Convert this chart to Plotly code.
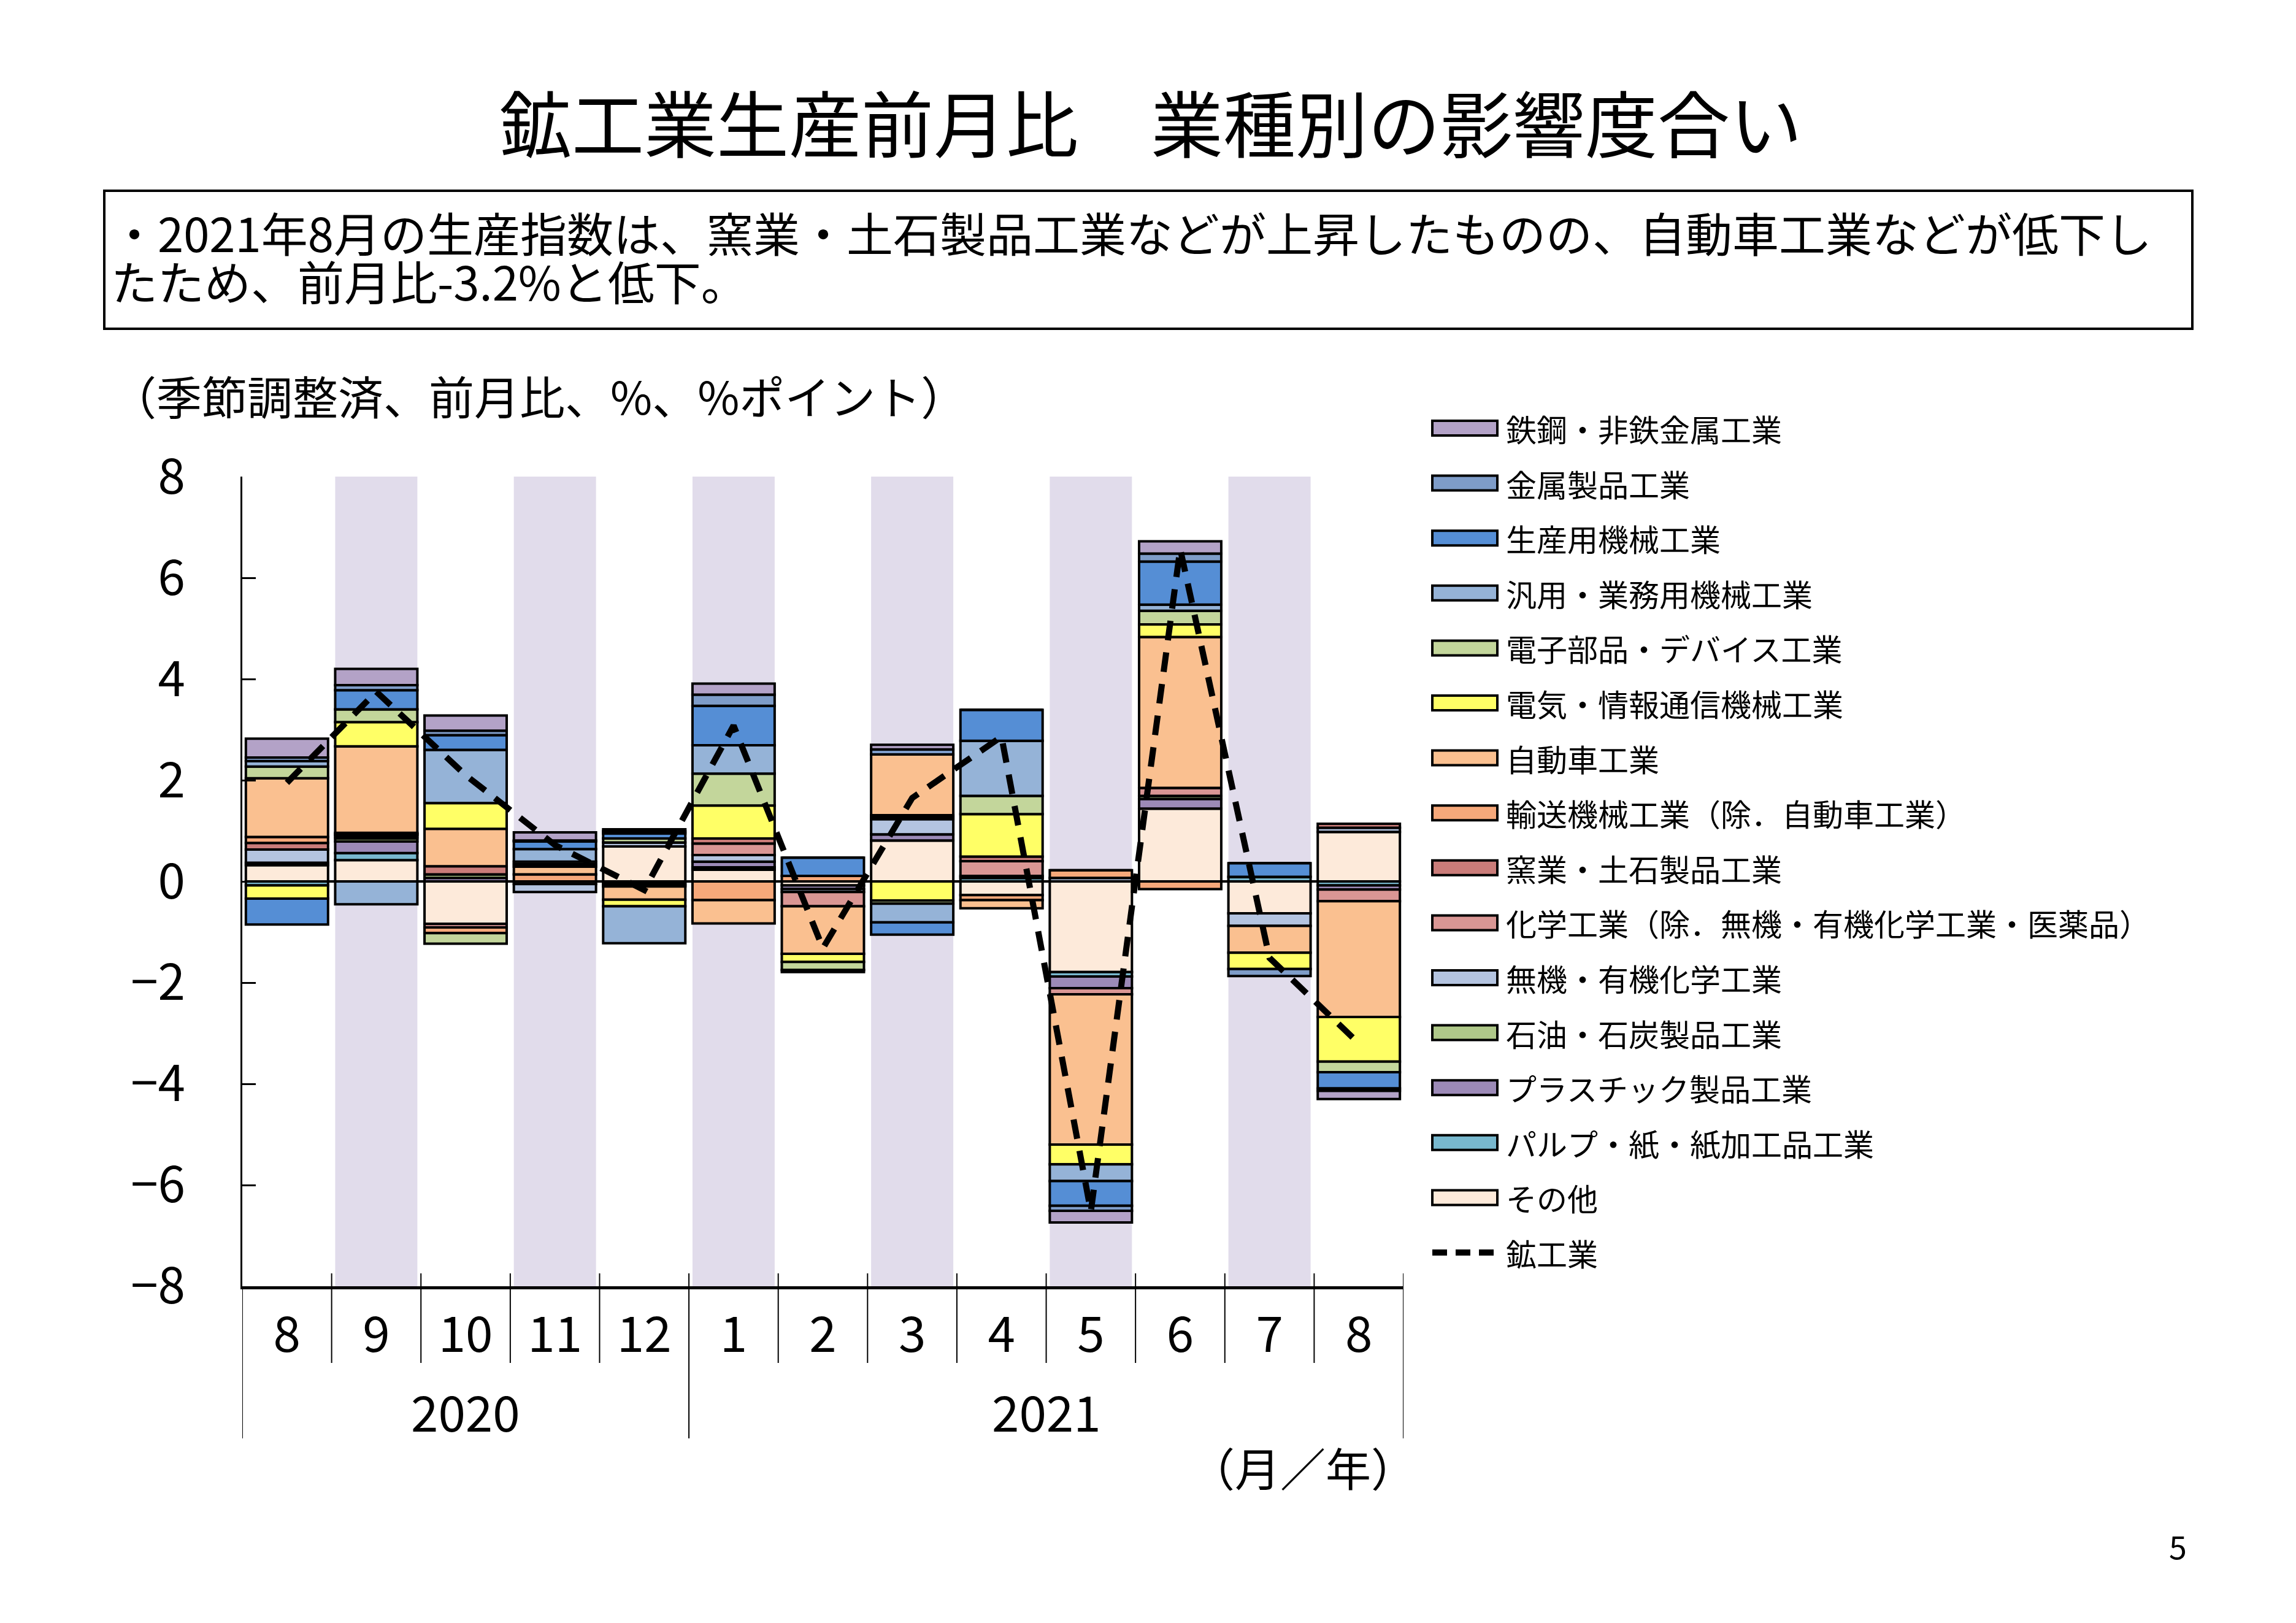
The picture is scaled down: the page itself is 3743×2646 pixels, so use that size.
import plotly.graph_objects as go

# ---------------- data ----------------
months = ["8", "9", "10", "11", "12", "1", "2", "3", "4", "5", "6", "7", "8"]
years = ["2020"] * 5 + ["2021"] * 8

# contribution by industry (%pt), Aug 2020 .. Aug 2021
sonota   = [0.32, 0.42, -0.84, -0.05, 0.69, 0.23, -0.08, 0.81, -0.27, -1.79, 1.44, -0.63, 0.98]
pulp     = [-0.08, 0.14, 0.00, 0.00, -0.04, 0.05, 0.00, 0.00, 0.07, -0.09, 0.00, 0.09, -0.08]
plastic  = [0.05, 0.23, 0.07, 0.00, 0.00, 0.11, -0.07, 0.12, 0.00, -0.23, 0.19, 0.00, -0.08]
sekiyu   = [0.00, 0.06, 0.07, 0.00, 0.00, 0.00, 0.00, 0.00, 0.00, 0.00, 0.06, 0.00, 0.00]
muki     = [0.26, 0.04, 0.00, -0.16, 0.08, 0.13, -0.06, 0.30, 0.04, 0.07, 0.00, -0.25, 0.08]
kagaku   = [0.00, 0.03, -0.07, 0.00, 0.00, 0.23, -0.28, 0.04, 0.29, -0.12, 0.16, 0.00, -0.23]
yogyo    = [0.13, 0.02, 0.16, 0.00, -0.03, 0.10, 0.00, 0.04, 0.09, 0.00, 0.00, 0.00, 0.08]
yuso     = [0.12, 0.02, -0.11, 0.14, -0.03, -0.37, 0.11, 0.00, -0.10, 0.15, -0.15, 0.00, 0.00]
jidosha  = [1.16, 1.71, 0.74, 0.15, -0.26, -0.46, -0.94, 1.20, -0.16, -2.97, 2.98, -0.53, -2.29]
denki    = [-0.26, 0.48, 0.51, 0.05, -0.13, 0.65, -0.16, -0.38, 0.84, -0.39, 0.25, -0.32, -0.88]
denshi   = [0.23, 0.25, -0.21, 0.05, 0.08, 0.63, -0.16, -0.06, 0.36, 0.00, 0.27, 0.00, -0.21]
hanyo    = [0.11, -0.45, 1.05, 0.25, -0.73, 0.56, 0.00, -0.37, 1.09, -0.33, 0.12, 0.00, 0.00]
seisanyo = [-0.51, 0.38, 0.29, 0.15, 0.10, 0.78, 0.36, -0.24, 0.61, -0.49, 0.85, 0.27, -0.32]
kinzoku  = [0.07, 0.10, 0.09, 0.02, 0.04, 0.22, -0.04, 0.10, 0.00, -0.10, 0.16, -0.14, -0.05]
tekko    = [0.37, 0.32, 0.30, 0.16, 0.04, 0.22, 0.00, 0.09, 0.00, -0.23, 0.24, 0.00, -0.16]

# 鉱工業 (mining & manufacturing, % m/m)
kokogyo = [1.95, 3.75, 2.10, 0.72, -0.17, 3.08, -1.32, 1.65, 2.86, -6.52, 6.57, -1.51, -3.20]
zero_ref = [0.0] * len(months)

# series in stacking order (first = closest to zero)
series = [
    ("その他", sonota, "#FDEADA"),
    ("パルプ・紙・紙加工品工業", pulp, "#78B8CE"),
    ("プラスチック製品工業", plastic, "#9C8AB7"),
    ("石油・石炭製品工業", sekiyu, "#AFC889"),
    ("無機・有機化学工業", muki, "#B4C4E0"),
    ("化学工業（除．無機・有機化学工業・医薬品）", kagaku, "#D99694"),
    ("窯業・土石製品工業", yogyo, "#CA7C79"),
    ("輸送機械工業（除．自動車工業）", yuso, "#F6A87A"),
    ("自動車工業", jidosha, "#FAC090"),
    ("電気・情報通信機械工業", denki, "#FFFF66"),
    ("電子部品・デバイス工業", denshi, "#C3D69B"),
    ("汎用・業務用機械工業", hanyo, "#95B3D7"),
    ("生産用機械工業", seisanyo, "#558ED5"),
    ("金属製品工業", kinzoku, "#7E9CC8"),
    ("鉄鋼・非鉄金属工業", tekko, "#B3A2C7"),
]
line_name = "鉱工業"

title_text = "鉱工業生産前月比　業種別の影響度合い"
box_line1 = "・2021年8月の生産指数は、窯業・土石製品工業などが上昇したものの、自動車工業などが低下し"
box_line2 = "たため、前月比-3.2%と低下。"
ytitle = "（季節調整済、前月比、%、%ポイント）"
xunit = "（月／年）"
page_no = "5"
yticks = [-8, -6, -4, -2, 0, 2, 4, 6, 8]

# ---------------- layout constants ----------------
W, H = 3743, 2646
L, R, T, B = 387, 2280, 769, 2089
FONT = "Noto Sans CJK JP"
BARW = 0.92


def px(X):
    return (X - L) / (R - L)


def py(Y):
    return (B - Y) / (B - T)


xs = list(range(len(months)))

fig = go.Figure()

for name, vals, col in series:
    fig.add_trace(go.Bar(
        x=xs, y=vals, name=name, width=BARW,
        marker=dict(color=col, line=dict(color="black", width=4)),
        showlegend=False,
    ))

fig.add_trace(go.Scatter(
    x=xs, y=zero_ref, mode="lines", line=dict(color="black", width=4),
    showlegend=False, hoverinfo="skip",
))
fig.add_trace(go.Scatter(
    x=xs, y=kokogyo, mode="lines", name=line_name,
    line=dict(color="black", width=10, dash="32px,20px"),
    showlegend=False,
))

shapes = []
# alternating shaded columns
for i in xs:
    if i % 2 == 1:
        shapes.append(dict(type="rect", xref="x", yref="y", x0=i - BARW / 2, x1=i + BARW / 2,
                           y0=yticks[0], y1=yticks[-1], fillcolor="#E1DCEB",
                           line=dict(width=0), layer="below"))

# month dividers and year dividers
year_bounds = [-0.5] + [i - 0.5 for i in range(1, len(years)) if years[i] != years[i - 1]] + [len(years) - 0.5]
for i in range(len(months) - 1):
    xb = i + 0.5
    if xb in year_bounds:
        continue
    shapes.append(dict(type="line", xref="x", yref="paper", x0=xb, x1=xb,
                       y0=py(2068), y1=py(2214), line=dict(color="black", width=2)))
for xb in year_bounds:
    top = 2089 if xb == -0.5 else 2068
    shapes.append(dict(type="line", xref="x", yref="paper", x0=xb, x1=xb,
                       y0=py(top), y1=py(2337), line=dict(color="black", width=2)))

# text box
shapes.append(dict(type="rect", xref="paper", yref="paper", x0=px(162), x1=px(3566),
                   y0=py(303), y1=py(528), line=dict(color="black", width=4), fillcolor="rgba(0,0,0,0)"))

annotations = []
annotations.append(dict(text=title_text, xref="paper", yref="paper", x=px(1868), y=py(188),
                        xanchor="center", yanchor="middle", showarrow=False,
                        font=dict(family=FONT, size=118, color="black")))
annotations.append(dict(text=box_line1, xref="paper", yref="paper", x=px(171), y=py(370),
                        xanchor="left", yanchor="middle", showarrow=False,
                        font=dict(family=FONT, size=76, color="black")))
annotations.append(dict(text=box_line2, xref="paper", yref="paper", x=px(171), y=py(449),
                        xanchor="left", yanchor="middle", showarrow=False,
                        font=dict(family=FONT, size=76, color="black")))
annotations.append(dict(text=ytitle, xref="paper", yref="paper", x=px(171), y=py(635),
                        xanchor="left", yanchor="middle", showarrow=False,
                        font=dict(family=FONT, size=74, color="black")))
annotations.append(dict(text=xunit, xref="paper", yref="paper", x=px(2116), y=py(2382),
                        xanchor="center", yanchor="middle", showarrow=False,
                        font=dict(family=FONT, size=74, color="black")))
annotations.append(dict(text=page_no, xref="paper", yref="paper", x=px(3542), y=py(2511),
                        xanchor="center", yanchor="middle", showarrow=False,
                        font=dict(family=FONT, size=52, color="black")))

# year labels centred under their months
for y_lab in dict.fromkeys(years):
    idx = [i for i, yy in enumerate(years) if yy == y_lab]
    annotations.append(dict(text=y_lab, xref="x", yref="paper", x=sum(idx) / len(idx), y=py(2291),
                            xanchor="center", yanchor="middle", showarrow=False,
                            font=dict(family=FONT, size=80, color="black")))

# manual legend (top to bottom = reverse stacking order, then the line)
leg_items = list(reversed(series))
row0, step = 690, 89.6
for k, (name, vals, col) in enumerate(leg_items):
    yc = row0 + step * k
    shapes.append(dict(type="rect", xref="paper", yref="paper", x0=px(2327), x1=px(2433),
                       y0=py(yc - 12), y1=py(yc + 12), fillcolor=col,
                       line=dict(color="black", width=4)))
    annotations.append(dict(text=name, xref="paper", yref="paper", x=px(2445), y=py(yc),
                            xanchor="left", yanchor="middle", showarrow=False,
                            font=dict(family=FONT, size=50, color="black")))
yc = row0 + step * len(leg_items)
shapes.append(dict(type="line", xref="paper", yref="paper", x0=px(2327), x1=px(2433),
                   y0=py(yc), y1=py(yc), line=dict(color="black", width=10, dash="24px,14px")))
annotations.append(dict(text=line_name, xref="paper", yref="paper", x=px(2445), y=py(yc),
                        xanchor="left", yanchor="middle", showarrow=False,
                        font=dict(family=FONT, size=50, color="black")))

fig.update_layout(
    width=W, height=H,
    margin=dict(l=L, r=W - R, t=T, b=H - B, autoexpand=False),
    paper_bgcolor="white", plot_bgcolor="white",
    barmode="relative", bargap=1 - BARW,
    showlegend=False,
    font=dict(family=FONT, color="black"),
    shapes=shapes, annotations=annotations,
    xaxis=dict(range=[-0.5, len(months) - 0.5], tickvals=xs, ticktext=months,
               showline=True, linecolor="black", linewidth=5, showgrid=False, zeroline=False,
               ticks="", ticklabelstandoff=6,
               tickfont=dict(family=FONT, size=80, color="black"), fixedrange=True),
    yaxis=dict(range=[yticks[0], yticks[-1]], tickvals=yticks,
               ticktext=[("−" + str(abs(v))) if v < 0 else str(v) for v in yticks],
               showline=True, linecolor="black", linewidth=3, showgrid=False, zeroline=False,
               ticks="inside", ticklen=22, tickwidth=3, tickcolor="black",
               ticklabelstandoff=74,
               tickfont=dict(family=FONT, size=80, color="black"), fixedrange=True),
)

fig.write_html("out.html")
